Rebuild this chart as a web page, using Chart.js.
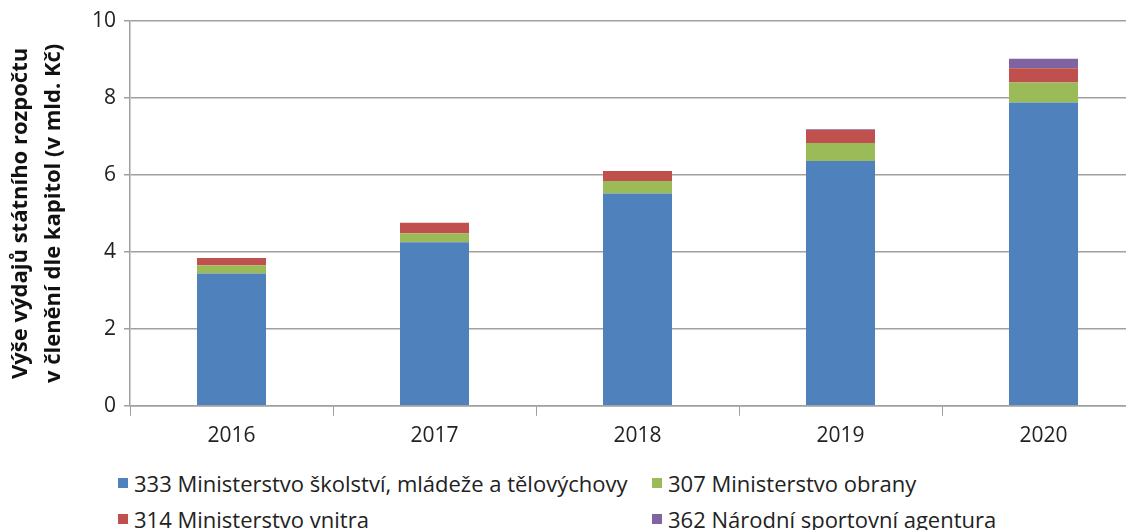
<!DOCTYPE html>
<html>
<head>
<meta charset="utf-8">
<script src="https://cdn.jsdelivr.net/npm/chart.js@4"></script>
<style>
    html, body { margin: 0; padding: 0; background: #fff; overflow: hidden; }
    #wrap { position: relative; width: 1145px; height: 457px; }
    #legend { position: absolute; left: 118px; top: 468px; width: 1000px;
        display: grid; grid-template-columns: 534px 460px; row-gap: 6px;
        font-family: "Open Sans", sans-serif; font-size: 22px; color: #222; }
    #legend div { display: flex; align-items: center; white-space: nowrap; }
    #legend span.box { width: 10px; height: 10px; margin-right: 6px; display: inline-block; }
</style>
</head>
<body>
<div id="wrap"><canvas id="barChart"></canvas></div>
<div id="legend"></div>
<script>
// data (mld. Kč)
const years = ['2016', '2017', '2018', '2019', '2020'];
const msmt = [3.44, 4.25, 5.52, 6.36, 7.88];
const obrana = [0.21, 0.23, 0.32, 0.47, 0.52];
const vnitro = [0.19, 0.28, 0.26, 0.34, 0.37];
const nsa = [0, 0, 0, 0.02, 0.25];
const seriesNames = [
    '333 Ministerstvo školství, mládeže a tělovýchovy',
    '307 Ministerstvo obrany',
    '314 Ministerstvo vnitra',
    '362 Národní sportovní agentura'
];
const colors = ['#4F81BD', '#9BBB59', '#C0504D', '#8064A2'];

const values = [msmt, obrana, vnitro, nsa];
const datasets = values.map((v, i) => ({
    label: seriesNames[i],
    data: v,
    backgroundColor: colors[i],
    barPercentage: 0.34,
    categoryPercentage: 1
}));

const ctx = document.getElementById('barChart').getContext('2d');
new Chart(ctx, {
    type: 'bar',
    data: { labels: years, datasets: datasets },
    options: {
        responsive: true,
        maintainAspectRatio: false,
        animation: false,
        layout: { padding: { top: 21, left: 0, right: 0, bottom: 0 } },
        plugins: {
            legend: { display: false },
            tooltip: { enabled: false }
        },
        scales: {
            x: {
                stacked: true,
                offset: true,
                grid: { display: true, drawOnChartArea: false, offset: true, color: '#A0A0A0', tickLength: 10 },
                border: { color: '#A0A0A0', width: 1.5 },
                ticks: { color: '#222', font: { family: 'Open Sans', size: 21 }, padding: 8 }
            },
            y: {
                stacked: true,
                min: 0,
                max: 10,
                afterFit: s => { s.width = 130; },
                ticks: { stepSize: 2, color: '#222', font: { family: 'Open Sans', size: 21 }, padding: 8 },
                grid: { color: '#A0A0A0', lineWidth: 1.5, tickLength: 6 },
                border: { color: '#A0A0A0', width: 1.5 },
                title: {
                    display: true,
                    text: ['Výše výdajů státního rozpočtu', 'v členění dle kapitol (v mld. Kč)'],
                    color: '#111',
                    font: { family: 'Open Sans', size: 22, weight: 'bold', lineHeight: 1.5 },
                    padding: { top: 4, bottom: 0 }
                }
            }
        }
    }
});

// legend in two columns like the original
const legend = document.getElementById('legend');
[0, 1, 2, 3].forEach(i => {
    const d = document.createElement('div');
    d.innerHTML = '<span class="box" style="background:' + colors[i] + '"></span>' + seriesNames[i];
    legend.appendChild(d);
});
</script>
</body>
</html>
